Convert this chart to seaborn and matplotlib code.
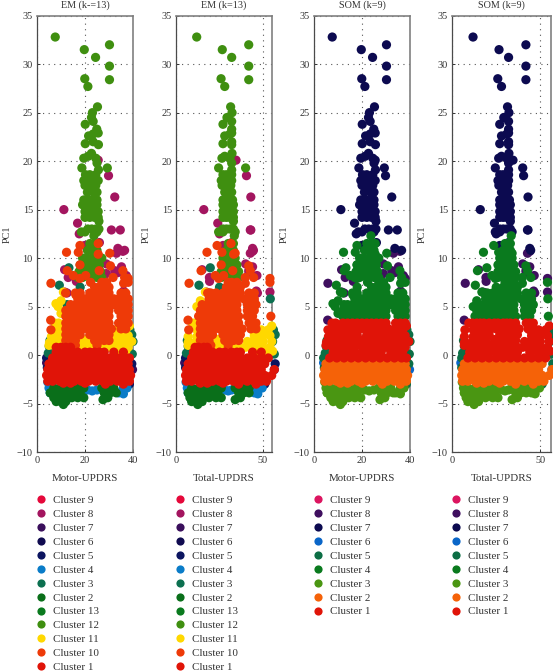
import pandas as pd
import matplotlib
matplotlib.use("Agg")
import matplotlib.pyplot as plt
from matplotlib.lines import Line2D
import seaborn as sns

# upper tail
tail_m = [7.6, 19.7, 24.4, 30.2, 30.2, 30.2, 19.9, 21.2, 25.2, 23.1, 22.7, 23.4, 20.1, 24.9,
          25.5, 21.5, 23.4, 20.1, 23.4, 25.6, 19.5, 22.7, 24.5, 21.3, 25, 18.7, 29.3, 25.6,
          20.2, 22, 24.5, 19.5, 21, 23.5, 25.5, 20, 22, 24.5, 21, 23.5, 25,
          19.5, 21.5, 23.5, 25, 19, 21, 23, 25, 20, 22.5, 24.5, 25.5, 20, 22, 24, 25.5,
          25.8, 21.2, 22.8, 24.5, 25.8, 18.5, 20, 25]
tail_t = [11.9, 26.6, 32, 41.8, 41.8, 41.8, 25.9, 28, 31.4, 32.2, 29.3, 32, 27, 32,
          32, 28, 31, 27, 32, 32, 26.4, 32.2, 31, 28, 32, 24.5, 40, 32,
          27, 29, 32, 26, 28, 30, 32, 26.5, 29, 31.5, 28, 30, 32,
          27, 29, 31, 32.5, 27, 29, 31, 33, 27, 29, 31, 33, 27, 29, 31, 33,
          33, 27, 29, 31, 33, 24.5, 27, 34]
tail_y = [32.8, 31.5, 30.7, 32, 29.8, 28.4, 28.5, 27.7, 25.6, 25, 24.5, 24.1, 23.8, 23.3,
          22.9, 22.6, 22.8, 21.8, 22, 21.7, 20.3, 20.8, 20.3, 20.5, 19.8, 19.3, 19.3, 19.1,
          18.6, 18.6, 18.6, 18, 18, 18, 18, 17.5, 17.5, 17.5, 16.8, 16.8, 16.8,
          16, 16, 16, 16, 15.5, 15.5, 15.5, 15.5, 14.8, 14.8, 14.8, 14.8, 14.2, 14.2, 14.2, 14.2,
          13.8, 13, 13, 13, 13, 12.7, 12.7, 12.7]

# magenta outliers next to the tail
outlier_m = [25.5, 29.8, 32.4, 11.2, 16.9, 31, 34.7, 17.6, 22]
outlier_t = [34.5, 40.5, 43, 16, 24, 42.7, 43, 25, 29]
outlier_y = [20.1, 18.5, 16.3, 15, 13.6, 12.9, 12.9, 12.5, 15.4]

# narrow cone below the tail
cone_m = [23.7, 22, 24, 21, 23, 25, 19, 21, 23, 25, 27, 18, 20, 22, 24, 26,
          17.5, 20, 22, 24.5, 26.5, 17, 19, 22, 25, 27]
cone_t = [33.5, 30, 33, 29, 31, 33, 27, 29, 31, 33, 34, 27, 29, 31, 33, 35,
          26, 28, 31, 33, 36, 26, 29, 31, 33, 36]
cone_y = [12.3, 11.5, 11.5, 10.8, 10.8, 10.8, 10, 10, 10, 10, 10, 9.3, 9.3, 9.3, 9.3, 9.3,
          8.6, 8.6, 8.6, 8.6, 8.6, 8, 8, 8, 8, 8]

# scattered dots around the cone
spot_m = [12.3, 17.2, 17.9, 25.5, 25.5, 30.3, 17.9, 12.6, 15.1, 17.9, 20.3, 22.3, 25.9,
          30.6, 31.7, 35.8, 36.5, 36.1, 11.9, 16.2, 38, 38]
spot_t = [17.8, 26.4, 23.6, 31.6, 33.1, 34, 26, 14.4, 22.6, 24.5, 27.4, 30, 32.6,
          41.8, 39.8, 42.7, 44.6, 39.8, 18.2, 23.6, 54, 54.5]
spot_y = [10.6, 10.6, 11.3, 11.5, 10.4, 10.5, 9.3, 8.7, 8.2, 7.9, 8.2, 7.5, 8.7,
          9.2, 8, 8.7, 8, 7.4, 6.4, 6.2, 7.5, 4]

sidepurple_m = [5.8, 5.7, 38]
sidepurple_t = [7.5, 6.9, 54]
sidepurple_y = [7.4, 3.6, 7.9]

# magenta side points
side_m = [33.1, 35.8, 28.9, 13, 32.4, 35.2, 37.2, 28.9, 36.1, 36, 33.7, 36.5, 34.5, 35.8,
          16.4, 11.5, 12.5, 11.5]
side_t = [42.7, 44, 40, 19.2, 41.8, 44, 46.5, 33, 46.2, 54, 42, 46.8, 45, 41,
          19.3, 17.4, 19, 15]
side_y = [10.5, 10.7, 9.4, 8, 8.7, 9.1, 8.2, 8.4, 6.6, 6.5, 8.5, 6.4, 5.5, 5.3,
          7.6, 6.5, 6.4, 8.8]

sidenavy_m = [19.9, 33.7, 36.5, 26]
sidenavy_t = [27, 44, 44.5, 32]
sidenavy_y = [11.3, 11, 10.8, 11.6]

# orange mass, upper part
ohigh_m = [27, 29,
           24, 26, 28, 30,
           16, 18, 22, 24, 26, 28, 30, 35, 37,
           17, 20, 22, 24, 26, 28, 30, 32, 34, 36, 38,
           14, 16, 18, 20, 22, 24, 26, 28, 30, 32, 34, 36, 38,
           12, 14, 16, 18, 20, 22, 24, 26, 28, 30, 34, 36, 38,
           12, 14, 16, 18, 20, 22, 24, 26, 28, 30, 35, 37]
ohigh_t = [32, 35,
           29, 31, 34, 37,
           20, 23, 27, 30, 32, 35, 37, 42, 45,
           19, 22, 25, 28, 30, 33, 35, 39, 41, 43, 45,
           15, 18, 20, 22, 25, 27, 30, 32, 35, 41, 43, 44, 46,
           14, 16, 19, 21, 24, 26, 29, 31, 33, 35, 41, 43, 45,
           13, 16, 18, 21, 23, 26, 28, 31, 33, 36, 41, 44]
ohigh_y = [7.5, 7.5,
           7, 7, 7, 7,
           6.4, 6.4, 6.4, 6.4, 6.4, 6.4, 6.4, 6.4, 6.4,
           5.8, 5.8, 5.8, 5.8, 5.8, 5.8, 5.8, 5.8, 5.8, 5.8, 5.8,
           5.2, 5.2, 5.2, 5.2, 5.2, 5.2, 5.2, 5.2, 5.2, 5.2, 5.2, 5.2, 5.2,
           4.6, 4.6, 4.6, 4.6, 4.6, 4.6, 4.6, 4.6, 4.6, 4.6, 4.6, 4.6, 4.6,
           4, 4, 4, 4, 4, 4, 4, 4, 4, 4, 4, 4]

# orange mass, lower part
olow_m = [12, 14, 16, 18, 20, 22, 24, 26, 28, 30, 34, 36, 38,
          12, 14, 16, 19, 21, 23, 25, 27, 29, 31, 35, 37,
          12, 14, 16, 18, 22, 24, 26, 28, 30,
          12, 14, 16, 24, 26, 28, 30,
          12, 14, 16, 25, 5.8]
olow_t = [14, 16, 18, 21, 24, 26, 29, 31, 33, 36, 42, 44, 46,
          14, 16, 19, 22, 25, 28, 30, 33, 36, 38, 43, 46,
          14, 16, 19, 21, 27, 30, 32, 34, 37,
          14, 17, 19, 28, 31, 33, 36,
          15, 17, 20, 30, 7.3]
olow_y = [3.3, 3.3, 3.3, 3.3, 3.3, 3.3, 3.3, 3.3, 3.3, 3.3, 3.3, 3.3, 3.3,
          2.7, 2.7, 2.7, 2.7, 2.7, 2.7, 2.7, 2.7, 2.7, 2.7, 2.7, 2.7,
          2.1, 2.1, 2.1, 2.1, 2.1, 2.1, 2.1, 2.1, 2.1,
          1.5, 1.5, 1.5, 1.5, 1.5, 1.5, 1.5,
          1, 1, 1, 1, 2.6]

# yellow points
yhigh_m = [11, 10, 8.8, 7.9, 10]
yhigh_t = [16.9, 14, 12, 18.8, 15]
yhigh_y = [6.5, 5.6, 5, 5.3, 4.3]

ylow_m = [7.5, 9, 10.5, 38.5,
          7, 9.5, 33, 35, 37,
          6, 8.5, 10.5, 32, 34, 36, 38,
          5.2, 7.5, 10, 31, 33, 35, 37, 39.5, 19, 21, 23,
          5, 7, 30, 32, 34, 36, 38, 15, 18, 20, 22, 24, 26, 28,
          33, 35, 37]
ylow_t = [9.5, 11.5, 15, 55,
          12, 14, 44, 49, 53,
          7, 12, 14, 45, 47, 50, 54,
          7, 11, 14, 41, 44, 47, 50, 55, 24, 26, 29,
          7, 10, 40, 43, 46, 50, 54, 21, 23, 25, 28, 31, 33, 36,
          48, 52, 55.5]
ylow_y = [3.3, 3.3, 3, 3,
          2.6, 2.6, 2.6, 2.6, 2.6,
          1.9, 1.9, 1.9, 2, 2, 2, 2,
          1.3, 1.3, 1.3, 1.4, 1.4, 1.4, 1.4, 1.4, 1.6, 1.6, 1.6,
          1, 1, 0.8, 0.8, 0.8, 0.8, 0.8, 1, 1, 1, 1, 1, 1, 1,
          0.4, 0.4, 0.4]

# red block, top rows
rtop_m = [8, 10, 12, 14,
          8, 11, 14, 17, 20, 22, 24, 26, 28, 32, 36,
          6.5, 9.5, 12.5, 15.5, 18.5, 21.5, 24.5, 27.5, 30.5, 33.5, 36.5, 38.5]
rtop_t = [11, 13, 16, 18,
          10, 14, 18, 21, 25, 28, 32, 35, 37, 44, 49,
          9, 13, 17, 21, 25, 29, 33, 37, 41, 45, 49, 53]
rtop_y = [0.8, 0.8, 0.8, 0.8,
          0.3, 0.3, 0.3, 0.3, 0.3, 0.3, 0.3, 0.3, 0.3, 0.3, 0.3,
          -0.3, -0.3, -0.3, -0.3, -0.3, -0.3, -0.3, -0.3, -0.3, -0.3, -0.3, -0.3]

# red block, bottom rows
rbot_m = [5, 8, 11, 14, 17, 20, 23, 26, 29, 32, 35, 38,
          4.5, 6.5, 9.5, 12.5, 15.5, 18.5, 21.5, 24.5, 27.5, 30.5, 33.5, 36.5, 38.5,
          4, 5.5, 8, 11, 14, 17, 20, 23, 26, 29, 32, 35, 38, 39,
          4.5, 6.5, 9.5, 12.5, 15.5, 18.5, 21.5, 24.5, 27.5, 30.5, 33.5, 36.5, 38.5,
          11, 14, 20, 28.5, 36]
rbot_t = [7, 11, 15, 19, 23, 27, 31, 35, 39, 43, 47, 51,
          6, 9, 13, 17, 21, 25, 29, 33, 37, 41, 45, 49, 56.5,
          5.5, 7, 11, 15, 19, 23, 27, 31, 35, 39, 43, 47, 51, 55,
          6, 9, 13, 17, 21, 25, 29, 33, 37, 41, 45, 49, 52,
          14, 18, 27, 36, 46]
rbot_y = [-0.9, -0.9, -0.9, -0.9, -0.9, -0.9, -0.9, -0.9, -0.9, -0.9, -0.9, -0.9,
          -1.5, -1.5, -1.5, -1.5, -1.5, -1.5, -1.5, -1.5, -1.5, -1.5, -1.5, -1.5, -1.5,
          -2.1, -2.1, -2.1, -2.1, -2.1, -2.1, -2.1, -2.1, -2.1, -2.1, -2.1, -2.1, -2.1, -2.1,
          -2.7, -2.7, -2.7, -2.7, -2.7, -2.7, -2.7, -2.7, -2.7, -2.7, -2.7, -2.7, -2.7,
          -2.9, -2.9, -2.9, -3, -3]

# bottom band
low_m = [7, 9.5, 12, 14.5, 17, 19.5, 27, 29.5, 32,
         5.5, 8, 10.5, 13, 15.5, 18, 28, 30.5, 33,
         7, 9.5, 12, 14.5, 17, 19.5, 27.5, 29.5,
         8, 10, 12, 11]
low_t = [9, 13, 16, 19, 23, 26, 34, 38, 42,
         7, 11, 14, 17, 21, 24, 36, 39, 42,
         8, 12, 16, 19, 23, 26, 34, 37,
         9, 12, 15, 12.5]
low_y = [-3.4, -3.4, -3.4, -3.4, -3.4, -3.4, -3.4, -3.4, -3.4,
         -3.9, -3.9, -3.9, -3.9, -3.9, -3.9, -3.9, -3.9, -3.9,
         -4.4, -4.4, -4.4, -4.4, -4.4, -4.4, -4.6, -4.4,
         -4.8, -4.8, -4.8, -5.1]

blue_m = [4.5, 5, 5.5, 21, 23, 25, 34, 36, 37.5, 36]
blue_t = [5.8, 6.5, 7, 28, 30, 32, 45, 47, 49.5, 46.5]
blue_y = [-2.8, -3.4, -3.9, -3.6, -3.7, -3.6, -3.9, -4, -3.4, -3.4]

# teal at both sides
teal_m = [38.7, 40, 39.7, 5.4, 4.7, 39.5, 5.1]
teal_t = [56, 55.5, 56.5, 6.5, 6, 57, 7]
teal_y = [2.6, 1.4, 0.1, 1.5, 0.2, 2.1, 0.9]

tealup_m = [9.3, 13.3, 18, 12.5, 37.5]
tealup_t = [13.2, 19.7, 25, 18, 54.2]
tealup_y = [7.2, 9, 7, 5.2, 5.8]

navy_m = [4, 4.3, 39.5, 38.5]
navy_t = [5.5, 5.5, 57, 51]
navy_y = [-0.3, -1.3, -0.9, -3]

bluesom_m = [4, 39.8]
bluesom_t = [5, 56.5]
bluesom_y = [-0.8, -1.5]

# which cluster each group belongs to in EM and SOM
groups = [
    (tail_m, tail_t, tail_y, "Cluster 12", "Cluster 7"),
    (outlier_m, outlier_t, outlier_y, "Cluster 8", "Cluster 7"),
    (cone_m, cone_t, cone_y, "Cluster 12", "Cluster 4"),
    (spot_m, spot_t, spot_y, "Cluster 10", "Cluster 4"),
    (sidepurple_m, sidepurple_t, sidepurple_y, "Cluster 10", "Cluster 8"),
    (side_m, side_t, side_y, "Cluster 8", "Cluster 8"),
    (sidenavy_m, sidenavy_t, sidenavy_y, "Cluster 8", "Cluster 7"),
    (ohigh_m, ohigh_t, ohigh_y, "Cluster 10", "Cluster 4"),
    (olow_m, olow_t, olow_y, "Cluster 10", "Cluster 1"),
    (yhigh_m, yhigh_t, yhigh_y, "Cluster 11", "Cluster 4"),
    (ylow_m, ylow_t, ylow_y, "Cluster 11", "Cluster 1"),
    (rtop_m, rtop_t, rtop_y, "Cluster 1", "Cluster 1"),
    (rbot_m, rbot_t, rbot_y, "Cluster 1", "Cluster 2"),
    (low_m, low_t, low_y, "Cluster 2", "Cluster 3"),
    (blue_m, blue_t, blue_y, "Cluster 4", "Cluster 3"),
    (teal_m, teal_t, teal_y, "Cluster 3", "Cluster 5"),
    (tealup_m, tealup_t, tealup_y, "Cluster 3", "Cluster 4"),
    (navy_m, navy_t, navy_y, "Cluster 5", "Cluster 5"),
    (bluesom_m, bluesom_t, bluesom_y, "Cluster 7", "Cluster 6"),
]

em_order = ["Cluster 9", "Cluster 8", "Cluster 7", "Cluster 6", "Cluster 5", "Cluster 4", "Cluster 3",
            "Cluster 2", "Cluster 13", "Cluster 12", "Cluster 11", "Cluster 10", "Cluster 1"]
em_colors = ["#e5083a", "#a3155f", "#3a0f5c", "#100b50", "#0c1560", "#0a7cc8", "#0c7050",
             "#0a6f1a", "#0a7a1e", "#3f8f10", "#ffd800", "#ee3a08", "#e01408"]
som_order = ["Cluster 9", "Cluster 8", "Cluster 7", "Cluster 6", "Cluster 5", "Cluster 4",
             "Cluster 3", "Cluster 2", "Cluster 1"]
som_colors = ["#dc1560", "#3f0f5f", "#0c0a50", "#0a66c8", "#0c6e45", "#0a7a1e",
              "#4a9612", "#f56208", "#e01408"]

titles = ["EM (k-=13)", "EM (k=13)", "SOM (k=9)", "SOM (k=9)"]
xlabels = ["Motor-UPDRS", "Total-UPDRS", "Motor-UPDRS", "Total-UPDRS"]
yticks = [-10, -5, 0, 5, 10, 15, 20, 25, 30, 35]

W, H = 553, 672


def build_frame():
    rows = []
    for m, t, y, em, som in groups:
        part = pd.DataFrame({"motor": m, "total": t, "pc1": y})
        part["em"] = em
        part["som"] = som
        rows.append(part)
    return pd.concat(rows, ignore_index=True)


def draw_panel(df, left, right, xcol, ccol, order, colors, xlim, xticks, title, xlabel):
    ax = plt.gcf().add_axes([left / W, 1 - 452 / H, (right - left) / W, (452 - 15.7) / H])
    # the last legend entry lies on top
    rank = {c: i for i, c in enumerate(order)}
    d = df.assign(rank=df[ccol].map(rank)).sort_values("rank", kind="stable")
    sns.scatterplot(data=d, x=xcol, y="pc1", hue=ccol, hue_order=order, palette=dict(zip(order, colors)),
                    s=44, linewidth=0, alpha=1, legend=False, clip_on=False, zorder=3, ax=ax)
    ax.set_xlim(*xlim)
    ax.set_ylim(-10, 35)
    ax.set_xticks(xticks)
    ax.set_yticks(yticks)
    ax.grid(True, linestyle=(0, (1, 4)), color="#555555", linewidth=0.8)
    ax.set_axisbelow(True)
    ax.tick_params(direction="in", length=2, width=0.7, labelsize=7.4, colors="#333333", pad=3)
    for side in ["left", "bottom"]:
        ax.spines[side].set_color("#4a4a4a")
        ax.spines[side].set_linewidth(0.9)
    for side in ["top", "right"]:
        ax.spines[side].set_visible(True)
        ax.spines[side].set_color("#808080")
        ax.spines[side].set_linewidth(1.2)
    ax.set_title(title, fontsize=7.3, color="#333333", pad=5.5)
    ax.set_xlabel(xlabel, fontsize=7.9, color="#333333")
    ax.xaxis.set_label_coords(0.5, -0.05)
    ax.set_ylabel("PC1", fontsize=7.4, color="#333333")
    ax.yaxis.set_label_coords(-25 / (right - left), 0.5)

    handles = [Line2D([], [], linestyle="", marker="o", markersize=5.9, markeredgewidth=0,
                      color=c, label=n) for n, c in zip(order, colors)]
    ax.legend(handles=handles, loc="upper left", bbox_to_anchor=((left - 1.5) / W, 1 - 495.5 / H),
              bbox_transform=plt.gcf().transFigure, frameon=False, fontsize=7.9, labelspacing=0.385,
              handlelength=1, handletextpad=0.55, borderpad=0, borderaxespad=0,
              labelcolor="#333333")


def main():
    sns.set_theme(style="ticks")
    plt.rcParams["font.family"] = ["Liberation Serif", "DejaVu Serif"]
    df = build_frame()
    plt.figure(figsize=(W / 100, H / 100), dpi=100)
    draw_panel(df, 37, 133, "motor", "em", em_order, em_colors, (0, 40), [0, 20, 40], titles[0], xlabels[0])
    draw_panel(df, 176, 271.7, "total", "em", em_order, em_colors, (0, 55), [0, 50], titles[1], xlabels[1])
    draw_panel(df, 314, 410, "motor", "som", som_order, som_colors, (0, 40), [0, 20, 40], titles[2], xlabels[2])
    draw_panel(df, 452, 551, "total", "som", som_order, som_colors, (0, 56), [0, 50], titles[3], xlabels[3])
    plt.savefig("out.png", dpi=100)
    plt.close()


if __name__ == "__main__":
    main()
